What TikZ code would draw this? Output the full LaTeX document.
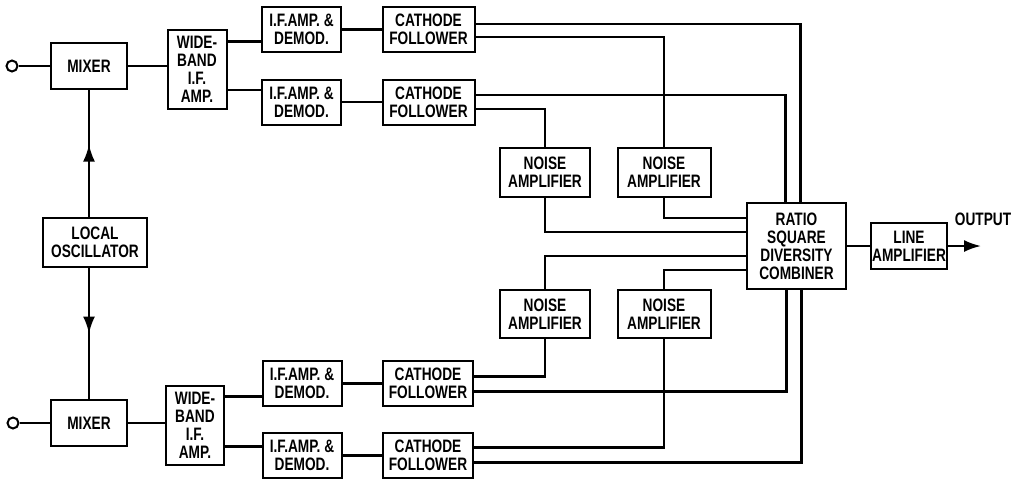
\documentclass[tikz,border=0pt]{standalone}
\usepackage{fontspec}
\newfontfamily\lblfont{Liberation Sans}[FakeStretch=0.76]
\usetikzlibrary{arrows.meta, calc, decorations.markings}

\begin{document}
\begin{tikzpicture}[x=1pt, y=-1pt,
		blk/.style={draw, line width=2pt, inner sep=0pt, align=center,
			font=\lblfont\bfseries\fontsize{18}{18}\selectfont},
		boxsize/.style 2 args={minimum width=#1, minimum height=#2},
		wire/.style={line width=2.2pt},
		midarrow/.style={postaction={decorate}, decoration={markings,
			mark=at position #1 with {\arrow{Latex[length=17pt, width=12pt]}}}}]
	\useasboundingbox (0,0) rectangle (1016,480);
	% input side
	\node[draw, circle, line width=2pt, minimum size=11pt, inner sep=0pt] (inA) at (12,66) {};
	\node[draw, circle, line width=2pt, minimum size=11pt, inner sep=0pt] (inB) at (13,423) {};
	\node[blk, boxsize={76pt}{46pt}] (mixA) at (89,66) {MIXER};
	\node[blk, boxsize={76pt}{46pt}] (mixB) at (89,423) {MIXER};
	\node[blk, boxsize={104pt}{49pt}] (osc) at (95,242.5) {LOCAL\\OSCILLATOR};
	\node[blk, boxsize={59pt}{79pt}] (wbA) at (197,69) {WIDE-\\BAND\\I.F.\\AMP.};
	\node[blk, boxsize={58pt}{79pt}] (wbB) at (195,425) {WIDE-\\BAND\\I.F.\\AMP.};
	% two channels per mixer
	\node[blk, boxsize={79pt}{45pt}] (ifA1) at (301.5,29.5) {I.F.AMP. \&\\DEMOD.};
	\node[blk, boxsize={79pt}{45pt}] (ifA2) at (301.5,102) {I.F.AMP. \&\\DEMOD.};
	\node[blk, boxsize={79pt}{45pt}] (ifB1) at (302,383.5) {I.F.AMP. \&\\DEMOD.};
	\node[blk, boxsize={79pt}{45pt}] (ifB2) at (302,455.5) {I.F.AMP. \&\\DEMOD.};
	\node[blk, boxsize={92pt}{45pt}] (cfA1) at (428.5,29) {CATHODE\\FOLLOWER};
	\node[blk, boxsize={92pt}{45pt}] (cfA2) at (428.5,102) {CATHODE\\FOLLOWER};
	\node[blk, boxsize={90pt}{45pt}] (cfB1) at (428,383.5) {CATHODE\\FOLLOWER};
	\node[blk, boxsize={90pt}{45pt}] (cfB2) at (428,455.5) {CATHODE\\FOLLOWER};
	\node[blk, boxsize={90pt}{49pt}] (nA1) at (545,172.5) {NOISE\\AMPLIFIER};
	\node[blk, boxsize={93pt}{49pt}] (nA2) at (664,172.5) {NOISE\\AMPLIFIER};
	\node[blk, boxsize={90pt}{48pt}] (nB1) at (545,314) {NOISE\\AMPLIFIER};
	\node[blk, boxsize={93pt}{48pt}] (nB2) at (664,314) {NOISE\\AMPLIFIER};
	% combiner and output
	\node[blk, boxsize={99pt}{86pt}] (comb) at (796.5,246) {RATIO\\SQUARE\\DIVERSITY\\COMBINER};
	\node[blk, boxsize={76pt}{46pt}] (lamp) at (909,246) {LINE\\AMPLIFIER};
	\node[font=\lblfont\bfseries\fontsize{18}{18}\selectfont] (outLbl) at (983,219) {OUTPUT};
	\coordinate (outEnd) at (981,246);

	\coordinate (pA1) at ([yshift=-12pt]ifA1.west);
	\coordinate (pA2) at ([yshift=12pt]ifA2.west);
	\coordinate (pB1) at ([yshift=-13pt]ifB1.west);
	\coordinate (pB2) at ([yshift=9pt]ifB2.west);
	\coordinate (oA1u) at ([yshift=5pt]cfA1.east);
	\coordinate (oA1l) at ([yshift=-8pt]cfA1.east);
	\coordinate (oA2u) at ([yshift=7pt]cfA2.east);
	\coordinate (oA2l) at ([yshift=-7pt]cfA2.east);
	\coordinate (oB1u) at ([yshift=7pt]cfB1.east);
	\coordinate (oB1l) at ([yshift=-8pt]cfB1.east);
	\coordinate (oB2u) at ([yshift=8pt]cfB2.east);
	\coordinate (oB2l) at ([yshift=-7pt]cfB2.east);
	\coordinate (kN1) at ([xshift=-11pt]comb.north);
	\coordinate (kN2) at ([xshift=4pt]comb.north);
	\coordinate (kS1) at ([xshift=-10pt]comb.south);
	\coordinate (kS2) at ([xshift=5pt]comb.south);
	\coordinate (kW1) at ([yshift=28pt]comb.west);
	\coordinate (kW2) at ([yshift=14pt]comb.west);
	\coordinate (kW3) at ([yshift=-10pt]comb.west);
	\coordinate (kW4) at ([yshift=-24pt]comb.west);

	\draw[wire] (inA) -- (mixA);
	\draw[wire] (inB) -- (mixB);
	\draw[wire] (mixA.east) -- (mixA.east -| wbA.west);
	\draw[wire] (mixB.east) -- (mixB.east -| wbB.west);
	\draw[wire, midarrow=0.57] (osc.north -| mixA.south) -- (mixA.south);
	\draw[wire, midarrow=0.5] (osc.south -| mixB.north) -- (mixB.north);
	\draw[wire] (pA1 -| wbA.east) -- (pA1);
	\draw[wire] (pA2 -| wbA.east) -- (pA2);
	\draw[wire] (pB1 -| wbB.east) -- (pB1);
	\draw[wire] (pB2 -| wbB.east) -- (pB2);
	\draw[wire] (ifA1.east) -- (ifA1.east -| cfA1.west);
	\draw[wire] (ifA2.east) -- (ifA2.east -| cfA2.west);
	\draw[wire] (ifB1.east) -- (ifB1.east -| cfB1.west);
	\draw[wire] (ifB2.east) -- (ifB2.east -| cfB2.west);
	% cathode followers to noise amplifiers and combiner
	\draw[wire] (oA1u) -| (kN2);
	\draw[wire] (oA1l) -| (nA2.north);
	\draw[wire] (oA2u) -| (kN1);
	\draw[wire] (oA2l) -| (nA1.north);
	\draw[wire] (oB1u) -| (nB1.south);
	\draw[wire] (oB1l) -| (kS1);
	\draw[wire] (oB2u) -| (nB2.south);
	\draw[wire] (oB2l) -| (kS2);
	\draw[wire] (nA2.south) |- (kW1);
	\draw[wire] (nA1.south) |- (kW2);
	\draw[wire] (nB1.north) |- (kW3);
	\draw[wire] (nB2.north) |- (kW4);
	\draw[wire] (comb) -- (lamp);
	\draw[wire, -{Latex[length=17pt, width=12pt]}] (lamp) -- (outEnd);
\end{tikzpicture}
\end{document}
